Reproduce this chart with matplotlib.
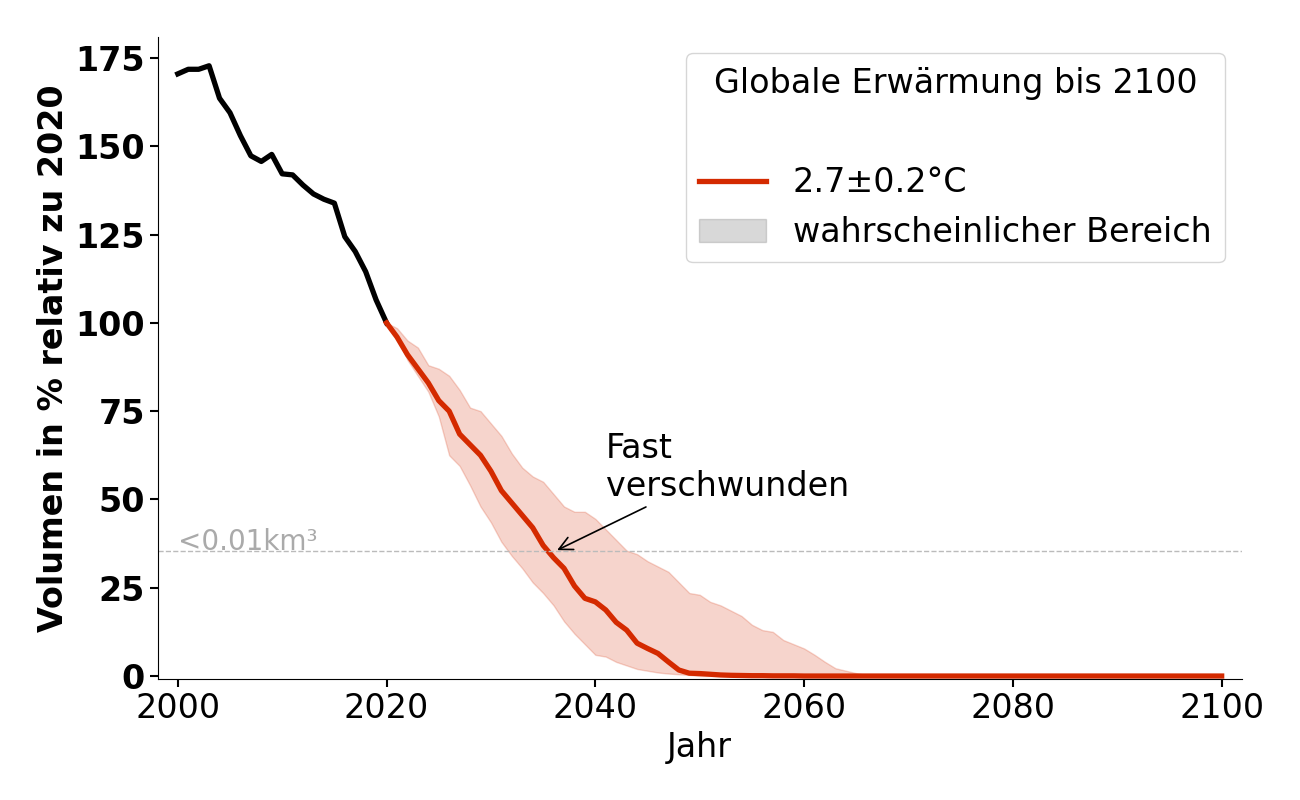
import matplotlib
matplotlib.use('Agg')
import matplotlib.pyplot as plt
from matplotlib.patches import Patch

plt.rc('font', size=24)

# Messdaten 2000-2020
hist_years = list(range(2000, 2021))
hist_vol = [170.5, 171.8, 171.8, 172.8, 163.6, 159.5, 153.0, 147.3, 145.7, 147.7,
            142.2, 141.9, 139.0, 136.5, 135.0, 133.9, 124.4, 120.2, 114.5, 106.5, 100.0]

# Projektion 2020-2100
proj_years = list(range(2020, 2101))
proj_mid = [100.0, 96.0, 91.0, 87.0, 83.0, 78.0, 75.0, 68.5, 65.5, 62.5,
            58.0, 52.5, 49.0, 45.5, 42.0, 37.0, 33.5, 30.5, 25.5, 22.0,
            21.0, 18.7, 15.2, 13.0, 9.3, 7.8, 6.4, 4.0, 1.7, 0.8,
            0.7, 0.5, 0.3, 0.2, 0.15, 0.1, 0.1, 0.05, 0.05, 0.05] + [0.0] * 41
proj_hi = [100.0, 98.5, 95.0, 93.0, 88.0, 87.0, 85.0, 81.0, 76.0, 75.0,
           71.5, 68.0, 63.0, 59.0, 56.5, 55.0, 51.5, 48.0, 46.5, 46.5,
           44.5, 41.5, 38.5, 35.5, 34.5, 32.5, 31.0, 29.5, 26.5, 23.5,
           23.0, 21.0, 20.0, 18.5, 17.0, 14.5, 13.0, 12.5, 10.2, 9.0,
           7.8, 6.0, 4.0, 2.2, 1.5, 0.8, 0.3] + [0.0] * 34
proj_lo = [100.0, 96.0, 89.5, 85.0, 80.5, 73.5, 62.5, 59.5, 54.0, 48.0,
           43.5, 38.0, 34.0, 30.5, 26.5, 23.5, 20.0, 15.5, 12.0, 9.0,
           6.0, 5.5, 4.0, 3.0, 2.0, 1.5, 1.0, 0.7, 0.5, 0.3] + [0.0] * 51

threshold = 35.3

fig = plt.figure(figsize=(13, 8), dpi=100)
ax = fig.add_axes([0.1215, 0.151, 0.8335, 0.803])

ax.plot(hist_years, hist_vol, color='black', lw=3.8)
ax.fill_between(proj_years, proj_lo, proj_hi, color='#d42a00', alpha=0.2)
ax.plot(proj_years, proj_mid, color='#d42a00', lw=3.8, label='2.7±0.2°C')

ax.axhline(threshold, color='#bbbbbb', lw=1, ls='--')
ax.text(2000, threshold - 1.2, '<0.01km³', color='#aaaaaa', ha='left', va='bottom',
        fontsize=20)

ax.annotate('Fast\nverschwunden', xy=(2036.1, threshold), xytext=(2041, 49),
            ha='left', va='bottom',
            arrowprops=dict(arrowstyle='->', color='black', lw=1.2))

ax.set_xlim(1998.1, 2101.9)
ax.set_ylim(-0.9, 181)
ax.set_xticks([2000, 2020, 2040, 2060, 2080, 2100])
ax.set_yticks([0, 25, 50, 75, 100, 125, 150, 175])
for lbl in ax.get_yticklabels():
    lbl.set_fontweight('bold')
ax.tick_params(width=1.5, length=6)
ax.spines['top'].set_visible(False)
ax.spines['right'].set_visible(False)
ax.set_xlabel('Jahr')
ax.set_ylabel('Volumen in % relativ zu 2020', fontweight='bold')

handles = [ax.get_lines()[1], Patch(facecolor='gray', edgecolor='gray', alpha=0.3)]
leg = ax.legend(handles, ['2.7±0.2°C', 'wahrscheinlicher Bereich'],
                title='Globale Erwärmung bis 2100\n', loc='upper right',
                title_fontsize=24, handlelength=2.0, labelspacing=0.5)
leg.get_title().set_linespacing(1.65)

fig.savefig('out.png')
